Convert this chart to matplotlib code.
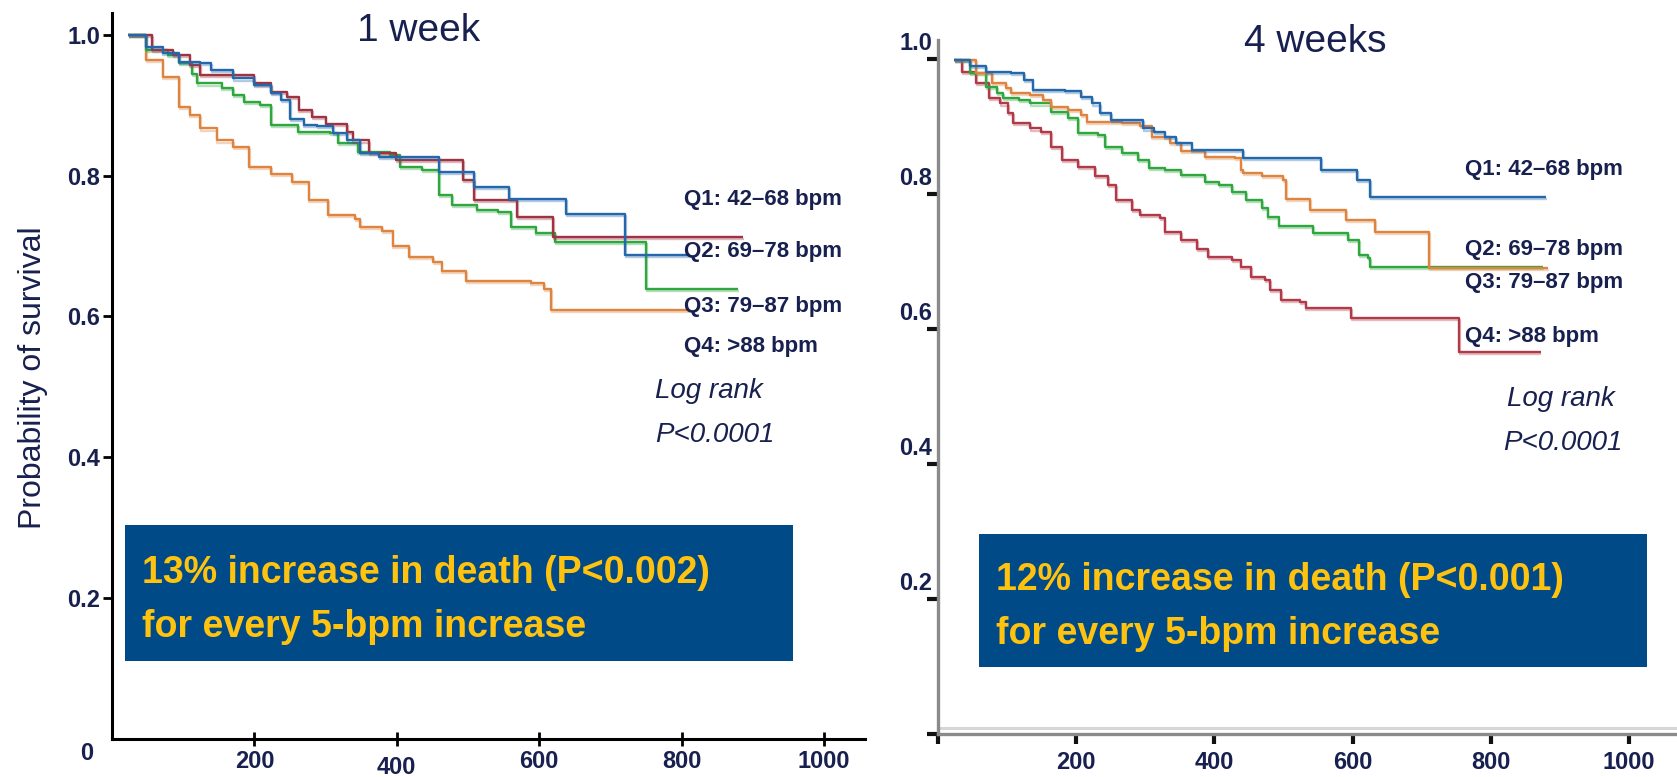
import matplotlib
matplotlib.use('Agg')
import matplotlib.pyplot as plt
import matplotlib.patheffects as pe
from matplotlib.patches import Rectangle
from matplotlib.transforms import ScaledTranslation

plt.rcParams['font.family'] = ['Liberation Sans', 'DejaVu Sans']

# ---- data (days, survival probability) ----
# 1 week panel
w1_q1_t = [23, 48, 71, 94, 124, 139, 170, 200, 223, 238, 250, 269, 288, 310, 330, 349, 375, 459, 508, 558, 638, 721, 812]
w1_q1_s = [1.0, 0.983, 0.974, 0.962, 0.96, 0.95, 0.938, 0.929, 0.917, 0.907, 0.881, 0.872, 0.87, 0.86, 0.85, 0.832, 0.827, 0.805, 0.784, 0.767, 0.746, 0.687, 0.687]
w1_q2_t = [23, 56, 86, 109, 124, 200, 223, 246, 262, 281, 300, 330, 338, 361, 399, 493, 508, 569, 619, 886]
w1_q2_s = [1.0, 0.979, 0.972, 0.957, 0.943, 0.931, 0.919, 0.912, 0.893, 0.884, 0.874, 0.862, 0.85, 0.832, 0.822, 0.794, 0.765, 0.741, 0.713, 0.713]
w1_q3_t = [23, 48, 78, 94, 113, 120, 154, 170, 185, 208, 223, 261, 306, 318, 345, 390, 405, 436, 459, 478, 512, 542, 561, 595, 622, 750, 879]
w1_q3_s = [1.0, 0.979, 0.972, 0.96, 0.945, 0.931, 0.924, 0.915, 0.905, 0.9, 0.872, 0.862, 0.86, 0.846, 0.834, 0.829, 0.813, 0.808, 0.772, 0.758, 0.751, 0.748, 0.727, 0.718, 0.706, 0.639, 0.639]
w1_q4_t = [23, 48, 71, 94, 109, 124, 147, 170, 193, 223, 253, 276, 303, 341, 349, 379, 394, 417, 451, 463, 497, 588, 607, 617, 811]
w1_q4_s = [1.0, 0.964, 0.94, 0.898, 0.886, 0.867, 0.85, 0.841, 0.813, 0.803, 0.791, 0.765, 0.744, 0.739, 0.727, 0.722, 0.70, 0.684, 0.677, 0.665, 0.651, 0.647, 0.639, 0.609, 0.609]

# 4 weeks panel
w4_q1_t = [23, 47, 70, 106, 125, 137, 184, 207, 223, 235, 250, 297, 313, 328, 344, 367, 442, 555, 606, 625, 880]
w4_q1_s = [0.998, 0.989, 0.981, 0.979, 0.969, 0.954, 0.952, 0.944, 0.934, 0.920, 0.910, 0.897, 0.892, 0.885, 0.875, 0.865, 0.853, 0.836, 0.821, 0.795, 0.795]
w4_q2_t = [23, 55, 78, 98, 106, 133, 152, 164, 188, 207, 215, 266, 293, 309, 336, 352, 387, 430, 438, 442, 469, 500, 504, 539, 590, 633, 711, 883]
w4_q2_s = [0.998, 0.979, 0.964, 0.957, 0.949, 0.947, 0.939, 0.929, 0.924, 0.917, 0.907, 0.905, 0.900, 0.885, 0.875, 0.863, 0.855, 0.853, 0.836, 0.831, 0.826, 0.821, 0.792, 0.776, 0.761, 0.744, 0.690, 0.690]
w4_q3_t = [23, 47, 70, 86, 94, 117, 133, 164, 188, 203, 231, 242, 266, 289, 305, 328, 352, 387, 407, 426, 446, 469, 477, 493, 543, 594, 610, 622, 625, 876]
w4_q3_s = [0.998, 0.979, 0.959, 0.949, 0.942, 0.939, 0.934, 0.922, 0.912, 0.890, 0.887, 0.870, 0.860, 0.850, 0.838, 0.836, 0.828, 0.818, 0.813, 0.803, 0.791, 0.779, 0.766, 0.752, 0.742, 0.732, 0.710, 0.705, 0.692, 0.692]
w4_q4_t = [23, 35, 55, 74, 90, 102, 109, 133, 149, 164, 180, 203, 227, 246, 258, 281, 293, 321, 328, 352, 375, 391, 426, 438, 453, 473, 481, 497, 524, 532, 598, 754, 872]
w4_q4_s = [0.998, 0.981, 0.964, 0.942, 0.934, 0.920, 0.905, 0.897, 0.892, 0.870, 0.850, 0.840, 0.826, 0.813, 0.791, 0.776, 0.769, 0.764, 0.744, 0.732, 0.719, 0.707, 0.702, 0.692, 0.677, 0.672, 0.658, 0.643, 0.640, 0.631, 0.616, 0.566, 0.566]

legend_labels = ['Q1: 42\u201368 bpm', 'Q2: 69\u201378 bpm', 'Q3: 79\u201387 bpm', 'Q4: >88 bpm']
x_ticks = [200, 400, 600, 800, 1000]
y_ticks = [0.2, 0.4, 0.6, 0.8, 1.0]

BLUE = '#2467ab'
RED = '#9e3342'
RED2 = '#b03a48'
GREEN = '#2fa63e'
ORANGE = '#dc8440'
NAVY = '#17204e'
BOX = '#004b87'
YELLOW = '#ffc20e'

W, H = 1677, 777
fig = plt.figure(figsize=(W / 100, H / 100), dpi=100)


def px(x, y):
    # pixel position (from top-left) -> figure fraction
    return x / W, 1 - y / H


def ax_rect(x0, x1, y_top, y_bot):
    return [x0 / W, 1 - y_bot / H, (x1 - x0) / W, (y_bot - y_top) / H]


def km(ax, t, s, color):
    ax.step(t, s, where='post', color=color, lw=1.7, solid_capstyle='butt',
            path_effects=[pe.SimpleLineShadow(offset=(0.6, -1.5), shadow_color=color, alpha=0.35),
                          pe.Normal()])


# ---------------- left panel: 1 week ----------------
ax1 = fig.add_axes(ax_rect(112, 865, 13, 739))
ax1.set_xlim(0, 1057.6)
ax1.set_ylim(0, 1.031)
for sp in ['top', 'right']:
    ax1.spines[sp].set_visible(False)
for sp in ['left', 'bottom']:
    ax1.spines[sp].set_linewidth(2.2)
    ax1.spines[sp].set_color('black')
km(ax1, w1_q4_t, w1_q4_s, ORANGE)
km(ax1, w1_q3_t, w1_q3_s, GREEN)
km(ax1, w1_q2_t, w1_q2_s, RED)
km(ax1, w1_q1_t, w1_q1_s, BLUE)
ax1.set_xticks(x_ticks)
ax1.set_yticks(y_ticks)
ax1.set_yticklabels(['0.2', '0.4', '0.6', '0.8', '1.0'])
ax1.tick_params(axis='y', direction='out', length=6.5, width=2, pad=2, labelsize=17, labelcolor=NAVY)
ax1.tick_params(axis='x', direction='inout', length=10, width=2, pad=3, labelsize=17, labelcolor=NAVY)
for lbl in ax1.get_xticklabels() + ax1.get_yticklabels():
    lbl.set_fontweight('bold')
lbl400 = ax1.get_xticklabels()[1]
lbl400.set_transform(lbl400.get_transform() + ScaledTranslation(0, -0.06, fig.dpi_scale_trans))
fig.text(*px(87, 753), '0', ha='center', va='center', fontsize=17, fontweight='bold', color=NAVY)

fig.text(*px(33, 378), 'Probability of survival', rotation=90, ha='center', va='center',
         fontsize=23, color=NAVY)
fig.text(*px(419, 31), '1 week', ha='center', va='center', fontsize=28, color=NAVY)

for lab, yb in zip(legend_labels, [205, 257, 312, 352]):
    fig.text(*px(684, yb), lab, ha='left', va='baseline', fontsize=16, fontweight='bold', color=NAVY)
fig.text(*px(655, 398), 'Log rank', ha='left', va='baseline', fontsize=20, style='italic', color=NAVY)
fig.text(*px(655, 442), 'P<0.0001', ha='left', va='baseline', fontsize=20, style='italic', color=NAVY)

fig.add_artist(Rectangle(px(125, 661), (793 - 125) / W, (661 - 525) / H,
                         transform=fig.transFigure, facecolor=BOX, edgecolor='none', zorder=2))
fig.text(*px(142, 583), '13% increase in death (P<0.002)', ha='left', va='baseline',
         fontsize=27, fontweight='bold', color=YELLOW, zorder=3)
fig.text(*px(142, 637), 'for every 5-bpm increase', ha='left', va='baseline',
         fontsize=27, fontweight='bold', color=YELLOW, zorder=3)

# ---------------- right panel: 4 weeks ----------------
ax2 = fig.add_axes(ax_rect(938, 1675, 40, 734))
ax2.set_xlim(0, 1066.6)
ax2.set_ylim(0, 1.028)
for sp in ['top', 'right']:
    ax2.spines[sp].set_visible(False)
for sp in ['left', 'bottom']:
    ax2.spines[sp].set_linewidth(2.4)
    ax2.spines[sp].set_color('#8a8a8a')
ax2.plot([0, 1], [0.0085, 0.0085], transform=ax2.transAxes, color='#d6d6d6', lw=2.2,
         clip_on=False, zorder=1)
km(ax2, w4_q4_t, w4_q4_s, RED2)
km(ax2, w4_q3_t, w4_q3_s, GREEN)
km(ax2, w4_q2_t, w4_q2_s, ORANGE)
km(ax2, w4_q1_t, w4_q1_s, BLUE)
ax2.set_xticks([0] + x_ticks)
ax2.set_xticklabels([''] + [str(v) for v in x_ticks])
ax2.set_yticks([0] + y_ticks)
ax2.set_yticklabels(['', '0.2', '0.4', '0.6', '0.8', '1.0'])
ax2.tick_params(axis='y', direction='out', length=8, width=3, pad=-3.6, labelsize=17,
                labelcolor=NAVY, color='#111111')
ax2.tick_params(axis='x', direction='out', length=7.5, width=3, pad=5, labelsize=17,
                labelcolor=NAVY, color='#111111')
for lbl in ax2.get_xticklabels() + ax2.get_yticklabels():
    lbl.set_fontweight('bold')
for lbl in ax2.get_yticklabels():
    lbl.set_transform(lbl.get_transform() + ScaledTranslation(0, 0.18, fig.dpi_scale_trans))

fig.text(*px(1315, 42), '4 weeks', ha='center', va='center', fontsize=28, color=NAVY)
for lab, yb in zip(legend_labels, [175, 255, 288, 342]):
    fig.text(*px(1465, yb), lab, ha='left', va='baseline', fontsize=16, fontweight='bold', color=NAVY)
fig.text(*px(1507, 406), 'Log rank', ha='left', va='baseline', fontsize=20, style='italic', color=NAVY)
fig.text(*px(1503, 450), 'P<0.0001', ha='left', va='baseline', fontsize=20, style='italic', color=NAVY)

fig.add_artist(Rectangle(px(979, 667), (1647 - 979) / W, (667 - 534) / H,
                         transform=fig.transFigure, facecolor=BOX, edgecolor='none', zorder=2))
fig.text(*px(996, 590), '12% increase in death (P<0.001)', ha='left', va='baseline',
         fontsize=27, fontweight='bold', color=YELLOW, zorder=3)
fig.text(*px(996, 644), 'for every 5-bpm increase', ha='left', va='baseline',
         fontsize=27, fontweight='bold', color=YELLOW, zorder=3)

fig.savefig('out.png', dpi=100, facecolor='white')
